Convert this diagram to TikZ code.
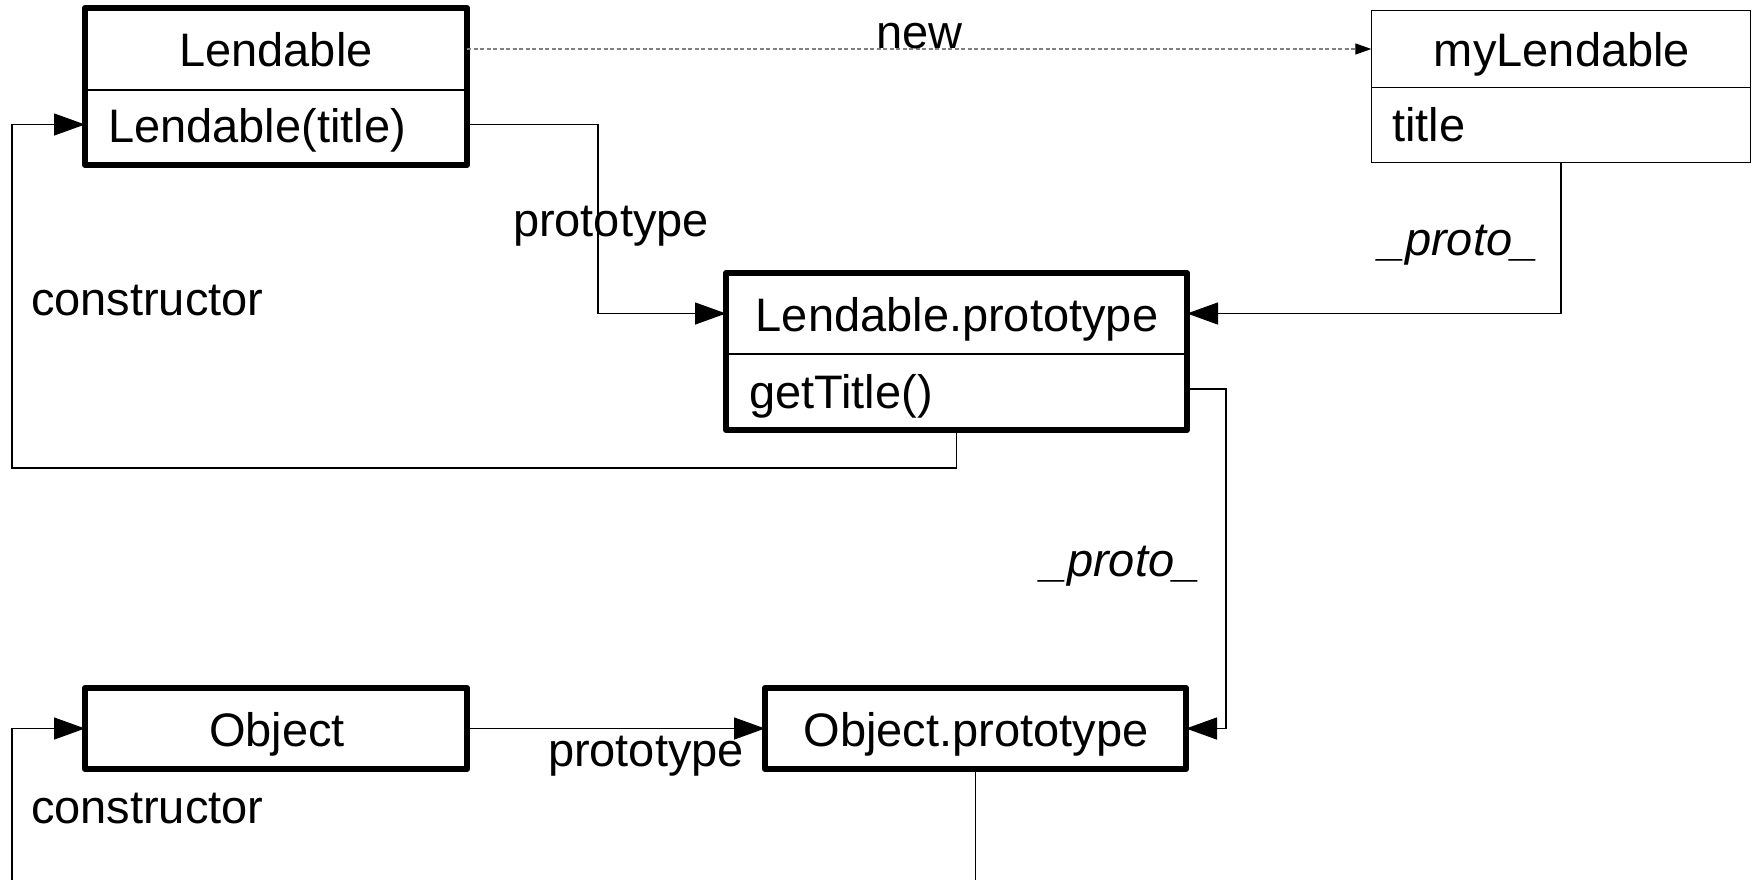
\documentclass[tikz,border=0pt]{standalone}
\usepackage{fontspec}
\setmainfont{Liberation Sans}
\usetikzlibrary{arrows.meta,calc}
\begin{document}
\begin{tikzpicture}[x=1pt,y=-1pt,
  comp/.style={inner sep=0pt,outer sep=3pt},
  thincomp/.style={inner sep=0pt,outer sep=0.65pt},
  thickframe/.style={line width=6pt,line join=round},
  thinframe/.style={line width=1.3pt},
  divline/.style={line width=1.2pt},
  conn/.style={line width=1.3pt,-{Triangle[length=31pt,width=22pt]}},
  newarr/.style={line width=1.2pt,draw=gray,dash pattern=on 4pt off 2.5pt,-{Triangle[length=16pt,width=11pt,black]}},
  txt/.style={font=\fontsize{47}{56}\selectfont,inner sep=0pt,outer sep=0pt},
]
\useasboundingbox (0,0) rectangle (1755,879);
\clip (0,0) rectangle (1755,879);

% ---- Lendable
\node[comp,minimum width=376pt,minimum height=76pt] (Lt) at (276,49) {};
\node[comp,minimum width=376pt,minimum height=75pt] (Lb) at (276,124.5) {};
\draw[thickframe] (Lt.north west) rectangle (Lb.south east);
\draw[divline] (Lt.south west) -- (Lt.south east);
\node[txt,anchor=base] (LtT) at (276,66) {Lendable};
\node[txt,anchor=base west] (LbT) at (108,142) {Lendable(title)};

% ---- myLendable
\node[thincomp,minimum width=378pt,minimum height=76pt] (mt) at (1561,49) {};
\node[thincomp,minimum width=378pt,minimum height=75pt] (mb) at (1561,124.5) {};
\draw[thinframe] (mt.north west) rectangle (mb.south east);
\draw[divline] (mt.south west) -- (mt.south east);
\node[txt,anchor=base] (mtT) at (1562,66) {myLendable};
\node[txt,anchor=base west] (mbT) at (1392,141) {title};

% ---- Lendable.prototype
\node[comp,minimum width=455pt,minimum height=75pt] (LPt) at (956.5,313.5) {};
\node[comp,minimum width=455pt,minimum height=76pt] (LPb) at (956.5,389) {};
\draw[thickframe] (LPt.north west) rectangle (LPb.south east);
\draw[divline] (LPt.south west) -- (LPt.south east);
\node[txt,anchor=base] (LPtT) at (957,331) {Lendable.prototype};
\node[txt,anchor=base west] (LPbT) at (749,408) {getTitle()};

% ---- Object
\node[comp,minimum width=376pt,minimum height=75pt] (O) at (276,728.5) {};
\draw[thickframe] (O.north west) rectangle (O.south east);
\node[txt,anchor=base] (OT) at (277,746) {Object};

% ---- Object.prototype
\node[comp,minimum width=415pt,minimum height=75pt] (OP) at (975.5,728.5) {};
\draw[thickframe] (OP.north west) rectangle (OP.south east);
\node[txt,anchor=base] (OPT) at (976,746) {Object.prototype};

% ---- connector bend points
\coordinate (c1) at (598,0);
\coordinate (c3) at (12,468);
\coordinate (c4) at (1226,0);
\coordinate (c6) at (12,920);

% new (dashed)
\draw[newarr] (Lt.east) -- (mt.west);
\node[txt,anchor=base west] (lnew) at (876,48) {new};

% Lendable -> Lendable.prototype (prototype)
\draw[conn] (Lb.east) -- (Lb.east -| c1) -- (LPt.west -| c1) -- (LPt.west);
\node[txt,anchor=base west] (lp1) at (513,236) {prototype};

% myLendable -> Lendable.prototype (_proto_)
\draw[conn] (mb.south) -- (mb.south |- LPt.east) -- (LPt.east);
\node[txt,anchor=base west] (lpr1) at (1379,255) {\itshape \_proto\_};

% Lendable.prototype -> Lendable (constructor)
\draw[conn] (LPb.south) |- (c3) |- (Lb.west);
\node[txt,anchor=base west] (lc1) at (31,315) {constructor};

% Lendable.prototype -> Object.prototype (_proto_)
\draw[conn] (LPb.east) -- (LPb.east -| c4) -- (OP.east -| c4) -- (OP.east);
\node[txt,anchor=base west] (lpr2) at (1041,576) {\itshape \_proto\_};

% Object -> Object.prototype (prototype)
\draw[conn] (O.east) -- (OP.west);
\node[txt,anchor=base west] (lp2) at (548,766) {prototype};

% Object.prototype -> Object (constructor)
\draw[conn] (OP.south) |- (c6) |- (O.west);
\node[txt,anchor=base west] (lc2) at (31,823) {constructor};
\end{tikzpicture}
\end{document}
